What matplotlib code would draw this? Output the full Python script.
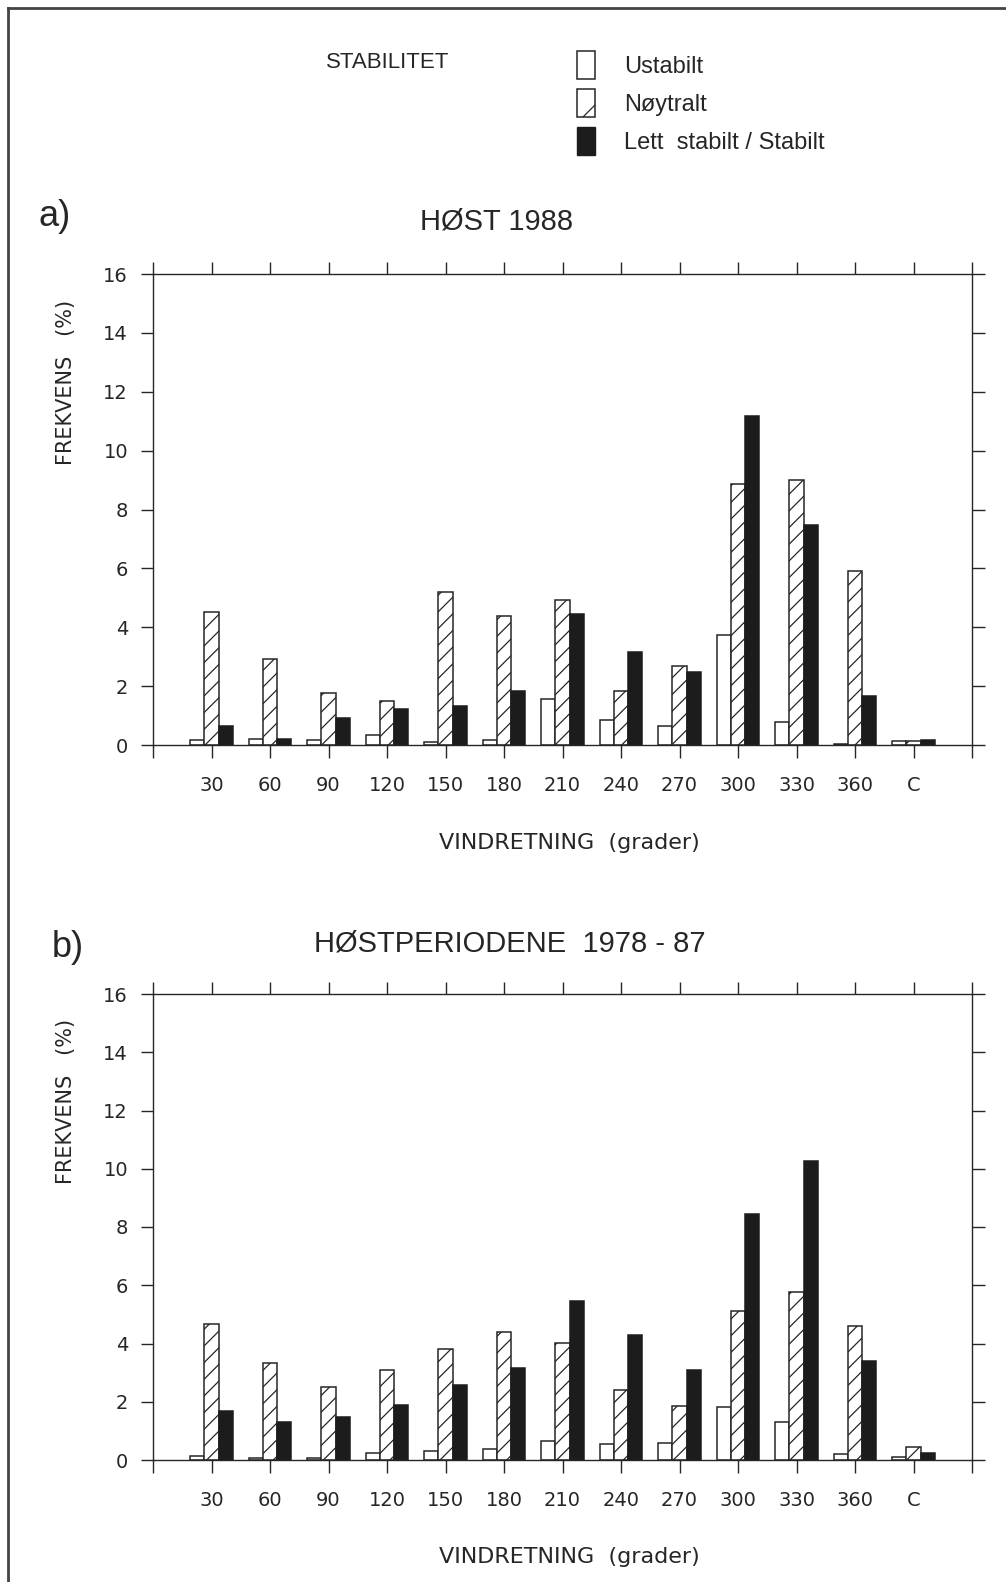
import numpy as np
import matplotlib.pyplot as plt
from matplotlib.patches import Patch
from matplotlib.lines import Line2D

plt.rcParams['hatch.linewidth'] = 0.9
plt.rcParams['font.family'] = ['DejaVu Sans']

cats = ['30', '60', '90', '120', '150', '180', '210', '240', '270', '300', '330', '360', 'C']

# a) HØST 1988
a_ustabil = [0.18, 0.19, 0.16, 0.35, 0.09, 0.17, 1.56, 0.85, 0.66, 3.73, 0.78, 0.03, 0.12]
a_noytral = [4.51, 2.91, 1.75, 1.49, 5.19, 4.39, 4.92, 1.82, 2.68, 8.86, 9.01, 5.91, 0.14]
a_stabil = [0.66, 0.22, 0.92, 1.23, 1.34, 1.82, 4.46, 3.15, 2.49, 11.17, 7.48, 1.65, 0.17]

# b) HØSTPERIODENE 1978 - 87
b_ustabil = [0.14, 0.06, 0.06, 0.24, 0.32, 0.39, 0.64, 0.54, 0.58, 1.81, 1.32, 0.19, 0.09]
b_noytral = [4.66, 3.34, 2.49, 3.09, 3.82, 4.40, 4.03, 2.40, 1.85, 5.13, 5.78, 4.60, 0.43]
b_stabil = [1.68, 1.29, 1.49, 1.90, 2.56, 3.17, 5.47, 4.28, 3.09, 8.44, 10.27, 3.41, 0.24]

W, H = 1006, 1582
ink = '#262626'
sans = ['Liberation Sans', 'DejaVu Sans']


def fx(x):
    return x / W


def fy(y):
    return 1 - y / H


fig = plt.figure(figsize=(W / 100, H / 100), dpi=100)


def panel(ystart, yend, ustabil, noytral, stabil):
    ax = fig.add_axes([fx(153), fy(yend), fx(972) - fx(153), fy(ystart) - fy(yend)])
    x = np.arange(1, len(cats) + 1)
    w = 0.245
    ax.bar(x - w, ustabil, w, color='white', edgecolor=ink, linewidth=1.1)
    ax.bar(x, noytral, w, color='white', edgecolor=ink, linewidth=1.1, hatch='//')
    ax.bar(x + w, stabil, w, color='#1c1c1c', edgecolor='#1c1c1c', linewidth=1.1)
    ax.set_xlim(0, 14)
    ax.set_ylim(0, 16)
    ax.set_xticks(range(15))
    ax.set_xticklabels([''] + cats + [''])
    ax.set_yticks(range(0, 17, 2))
    ax.tick_params(axis='x', direction='out', length=9, width=1, color=ink,
                   top=True, bottom=True, pad=13, labelsize=14, labelcolor=ink)
    ax.tick_params(axis='y', direction='out', length=9, width=1, color=ink,
                   left=True, right=True, pad=9, labelsize=14, labelcolor=ink)
    for s in ax.spines.values():
        s.set_color(ink)
        s.set_linewidth(1.0)
    ax.set_xlabel('VINDRETNING  (grader)', fontsize=16, color=ink)
    ax.xaxis.set_label_coords(0.509, -0.186)
    ax.set_ylabel('FREKVENS   (%)', fontsize=15, color=ink)
    ax.yaxis.set_label_coords(-0.094, 0.77)
    return ax


panel(274, 745, a_ustabil, a_noytral, a_stabil)
panel(994, 1460, b_ustabil, b_noytral, b_stabil)

# titles and panel letters
fig.text(fx(497), fy(222), 'HØST 1988', family=sans, fontsize=21, color=ink,
         ha='center', va='center')
fig.text(fx(510), fy(944), 'HØSTPERIODENE  1978 - 87', family=sans, fontsize=21,
         color=ink, ha='center', va='center')
fig.text(fx(38), fy(217), 'a)', family=sans, fontsize=26, color=ink, va='center')
fig.text(fx(52), fy(948), 'b)', family=sans, fontsize=26, color=ink, va='center')

# legend
fig.text(fx(388), fy(62), 'STABILITET', family=sans, fontsize=16, color=ink,
         ha='center', va='center')
handles = [Patch(facecolor='white', edgecolor=ink, linewidth=1.1),
           Patch(facecolor='white', edgecolor=ink, linewidth=1.1, hatch='/'),
           Patch(facecolor='#1c1c1c', edgecolor='#1c1c1c')]
labels = ['Ustabilt', 'Nøytralt', 'Lett  stabilt / Stabilt']
fig.legend(handles, labels, loc='upper left', bbox_to_anchor=(fx(577), fy(51)),
           frameon=False, borderpad=0, borderaxespad=0, handlelength=0.78,
           handleheight=1.45, labelspacing=0.42, handletextpad=1.2,
           prop={'family': sans, 'size': 17}, labelcolor=ink)

# scanned page frame (left and top edge)
fig.add_artist(Line2D([fx(8), fx(8)], [0, fy(8)], color='#444444', linewidth=2))
fig.add_artist(Line2D([fx(8), 1], [fy(8), fy(8)], color='#444444', linewidth=2))

fig.savefig('out.png', dpi=100)
